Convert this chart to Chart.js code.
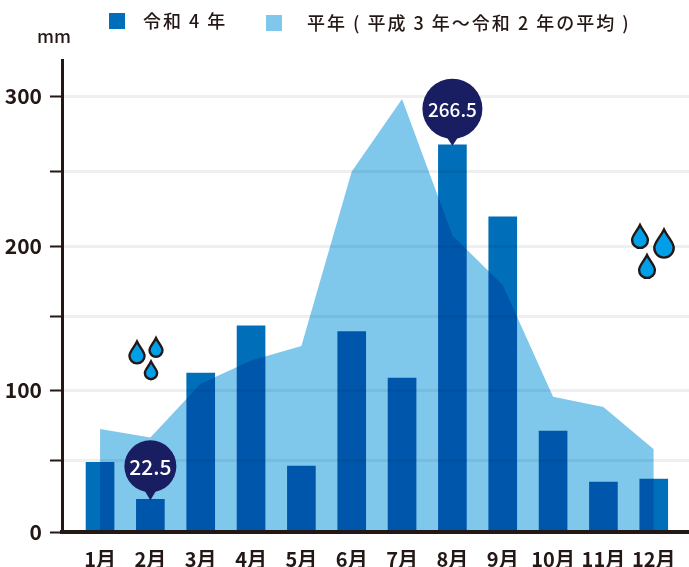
<!DOCTYPE html>
<html>
<head>
<meta charset="utf-8">
<script src="https://cdn.jsdelivr.net/npm/chart.js@4"></script>
<style>
body{margin:0;background:#fff;}
canvas{display:block;}
</style>
</head>
<body>
<canvas id="rain" width="689" height="567"></canvas>
<script>
const months=["1月","2月","3月","4月","5月","6月","7月","8月","9月","10月","11月","12月"];
const thisYear=[48,22.5,109.4,141.8,45.4,138,106,266.5,216.8,69.5,34.4,36.5];
const normalYear=[70.9,65,102,118,128,248,298,204,170,93,86,57];
// the source's gridlines are a little off its own bars, so they sit where it drew them
const tickValues=[0,49.5,97.7,148.6,196.8,248.4,300];
const tickLabels=["0","","100","","200","","300"];
const legendNames=["令和 4 年","平年 ( 平成 3 年～令和 2 年の平均 )"];
const legendColors=["#006eb8","#7fc8ec"];
const calloutMonths=[1,7];
const calloutLabels=["22.5","266.5"];

const ink="#231815";
const jp='"Noto Sans CJK JP"';

function toPoints(list){
  return list.map(function(v,i){return {x:i+1,y:v};});
}

function drop(ctx,x,y,h){
  var w=h*0.72;
  ctx.beginPath();
  ctx.moveTo(x,y-h/2);
  ctx.bezierCurveTo(x+w*0.2,y-h*0.2,x+w/2,y-h*0.02,x+w/2,y+h*0.18);
  ctx.arc(x,y+h*0.18,w/2,0,Math.PI);
  ctx.bezierCurveTo(x-w/2,y-h*0.02,x-w*0.2,y-h*0.2,x,y-h/2);
  ctx.closePath();
  ctx.fillStyle="#009fe8";
  ctx.fill();
  ctx.lineWidth=2.4;
  ctx.strokeStyle=ink;
  ctx.stroke();
}

// bars and area overprint each other and the gridlines
const multiplyMarks={
  id:"multiplyMarks",
  beforeDatasetsDraw:function(chart){
    chart.ctx.save();
    chart.ctx.globalCompositeOperation="multiply";
  },
  afterDatasetsDraw:function(chart){
    chart.ctx.restore();
  }
};

const extras={
  id:"extras",
  afterDraw:function(chart){
    var ctx=chart.ctx;
    ctx.save();
    // legend
    ctx.textBaseline="middle";
    ctx.textAlign="left";
    ctx.font="500 18px "+jp;
    ctx.fillStyle=legendColors[0];
    ctx.fillRect(109,13,16,16);
    ctx.fillStyle=legendColors[1];
    ctx.fillRect(266,15,16,16);
    ctx.fillStyle=ink;
    ctx.letterSpacing="2px";
    ctx.fillText(legendNames[0],143,21);
    ctx.fillText(legendNames[1],307,23);
    ctx.letterSpacing="0px";
    ctx.fillText("mm",37,36);
    // callouts
    var xs=chart.scales.x, ys=chart.scales.y;
    ctx.textAlign="center";
    calloutMonths.forEach(function(m,i){
      var px=xs.getPixelForValue(m+1);
      var tip=ys.getPixelForValue(thisYear[m]);
      var r=m==7?30:26;
      var cy=tip-(m==7?36:33);
      ctx.fillStyle="#191d62";
      ctx.beginPath();
      ctx.arc(px,cy,r,0,Math.PI*2);
      ctx.fill();
      ctx.beginPath();
      ctx.moveTo(px-6,cy+r-2);
      ctx.lineTo(px,tip+1);
      ctx.lineTo(px+6,cy+r-2);
      ctx.closePath();
      ctx.fill();
      ctx.fillStyle="#fff";
      ctx.font="500 "+(m==7?19:21)+"px "+jp;
      ctx.fillText(calloutLabels[i],px,cy+1);
    });
    // rain drops
    drop(ctx,137,352,21);
    drop(ctx,156,347,18);
    drop(ctx,151,370,17);
    drop(ctx,640,236,22);
    drop(ctx,664,243,27);
    drop(ctx,647,266,22);
    ctx.restore();
  }
};

new Chart(document.getElementById("rain"),{
  type:"bar",
  data:{
    datasets:[
      {
        type:"bar",
        data:toPoints(thisYear),
        backgroundColor:legendColors[0],
        barThickness:28,
        order:2
      },
      {
        type:"line",
        data:toPoints(normalYear),
        backgroundColor:legendColors[1],
        borderWidth:0,
        pointRadius:0,
        tension:0,
        fill:"origin",
        order:1
      }
    ]
  },
  plugins:[multiplyMarks,extras],
  options:{
    responsive:false,
    animation:false,
    layout:{padding:{top:60,left:0,right:0,bottom:0}},
    plugins:{legend:{display:false},tooltip:{enabled:false}},
    scales:{
      x:{
        type:"linear",
        offset:false,
        min:0.2445,
        max:12.70,
        afterFit:function(s){s.height=35;},
        afterBuildTicks:function(s){
          s.ticks=months.map(function(m,i){return {value:i+1};});
        },
        grid:{display:false},
        border:{color:ink,width:4,z:2},
        ticks:{
          autoSkip:false,
          maxRotation:0,
          padding:7,
          color:ink,
          font:{family:jp,size:20,weight:"bold"},
          callback:function(v){return months[v-1];}
        }
      },
      y:{
        min:0,
        max:324.8,
        afterFit:function(s){s.width=62;},
        afterBuildTicks:function(s){
          s.ticks=tickValues.map(function(v){return {value:v};});
        },
        grid:{color:"#efefef",lineWidth:3,tickColor:ink,tickWidth:2,tickLength:12},
        border:{color:ink,width:3,z:2},
        ticks:{
          padding:8,
          color:ink,
          font:{family:jp,size:21,weight:"bold"},
          callback:function(v){return tickLabels[tickValues.indexOf(v)];}
        }
      }
    }
  }
});
</script>
</body>
</html>
